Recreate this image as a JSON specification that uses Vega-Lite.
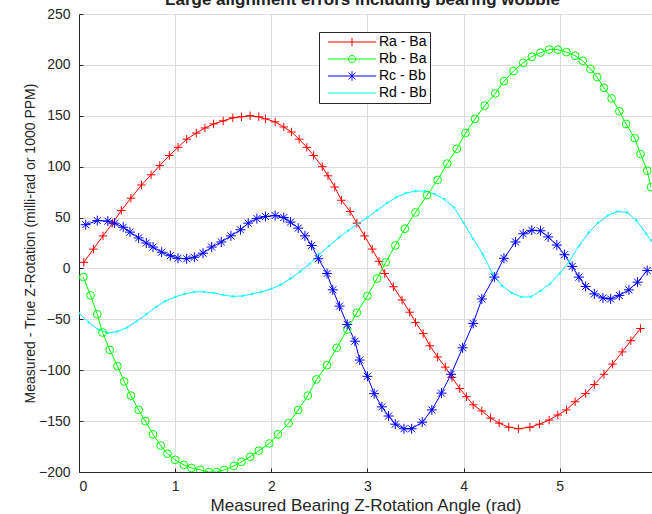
{
  "$schema": "https://vega.github.io/schema/vega-lite/v6.json",
  "width": 573,
  "height": 458,
  "autosize": {"type": "none"},
  "padding": {"left": 79, "top": 14, "right": 0, "bottom": 42},
  "background": "white",
  "title": {"text": "Large alignment errors including bearing wobble", "font": "Liberation Sans", "fontSize": 17, "fontWeight": "bold", "color": "#222222", "baseline": "alphabetic", "offset": -15, "anchor": "middle", "dx": -3},
  "data": {"values": [
    {"s": "Ra - Ba", "x": 0.05, "y": 6}, {"s": "Ra - Ba", "x": 0.15, "y": 19}, {"s": "Ra - Ba", "x": 0.25, "y": 32}, {"s": "Ra - Ba", "x": 0.35, "y": 44.5}, {"s": "Ra - Ba", "x": 0.44, "y": 57}, {"s": "Ra - Ba", "x": 0.54, "y": 69}, {"s": "Ra - Ba", "x": 0.65, "y": 82}, {"s": "Ra - Ba", "x": 0.75, "y": 92}, {"s": "Ra - Ba", "x": 0.84, "y": 101}, {"s": "Ra - Ba", "x": 0.94, "y": 111}, {"s": "Ra - Ba", "x": 1.03, "y": 119}, {"s": "Ra - Ba", "x": 1.12, "y": 127}, {"s": "Ra - Ba", "x": 1.22, "y": 133}, {"s": "Ra - Ba", "x": 1.31, "y": 138}, {"s": "Ra - Ba", "x": 1.40, "y": 142}, {"s": "Ra - Ba", "x": 1.50, "y": 145}, {"s": "Ra - Ba", "x": 1.60, "y": 148}, {"s": "Ra - Ba", "x": 1.69, "y": 149}, {"s": "Ra - Ba", "x": 1.78, "y": 150}, {"s": "Ra - Ba", "x": 1.87, "y": 149}, {"s": "Ra - Ba", "x": 1.94, "y": 147}, {"s": "Ra - Ba", "x": 2.04, "y": 144}, {"s": "Ra - Ba", "x": 2.13, "y": 139}, {"s": "Ra - Ba", "x": 2.21, "y": 134}, {"s": "Ra - Ba", "x": 2.29, "y": 127}, {"s": "Ra - Ba", "x": 2.37, "y": 119}, {"s": "Ra - Ba", "x": 2.44, "y": 111}, {"s": "Ra - Ba", "x": 2.53, "y": 100}, {"s": "Ra - Ba", "x": 2.59, "y": 91}, {"s": "Ra - Ba", "x": 2.66, "y": 80}, {"s": "Ra - Ba", "x": 2.73, "y": 67}, {"s": "Ra - Ba", "x": 2.82, "y": 56}, {"s": "Ra - Ba", "x": 2.89, "y": 44.5}, {"s": "Ra - Ba", "x": 2.97, "y": 32}, {"s": "Ra - Ba", "x": 3.05, "y": 19}, {"s": "Ra - Ba", "x": 3.12, "y": 7}, {"s": "Ra - Ba", "x": 3.18, "y": -5}, {"s": "Ra - Ba", "x": 3.27, "y": -18}, {"s": "Ra - Ba", "x": 3.36, "y": -31}, {"s": "Ra - Ba", "x": 3.44, "y": -43}, {"s": "Ra - Ba", "x": 3.50, "y": -53}, {"s": "Ra - Ba", "x": 3.58, "y": -64}, {"s": "Ra - Ba", "x": 3.65, "y": -76}, {"s": "Ra - Ba", "x": 3.73, "y": -87}, {"s": "Ra - Ba", "x": 3.81, "y": -97}, {"s": "Ra - Ba", "x": 3.88, "y": -107}, {"s": "Ra - Ba", "x": 3.96, "y": -118}, {"s": "Ra - Ba", "x": 4.03, "y": -126}, {"s": "Ra - Ba", "x": 4.10, "y": -134}, {"s": "Ra - Ba", "x": 4.19, "y": -140}, {"s": "Ra - Ba", "x": 4.28, "y": -147}, {"s": "Ra - Ba", "x": 4.37, "y": -152}, {"s": "Ra - Ba", "x": 4.47, "y": -156}, {"s": "Ra - Ba", "x": 4.57, "y": -157.5}, {"s": "Ra - Ba", "x": 4.69, "y": -156}, {"s": "Ra - Ba", "x": 4.79, "y": -153}, {"s": "Ra - Ba", "x": 4.89, "y": -149}, {"s": "Ra - Ba", "x": 4.98, "y": -144}, {"s": "Ra - Ba", "x": 5.07, "y": -139}, {"s": "Ra - Ba", "x": 5.16, "y": -131}, {"s": "Ra - Ba", "x": 5.27, "y": -123}, {"s": "Ra - Ba", "x": 5.36, "y": -114}, {"s": "Ra - Ba", "x": 5.46, "y": -104}, {"s": "Ra - Ba", "x": 5.55, "y": -94}, {"s": "Ra - Ba", "x": 5.65, "y": -82}, {"s": "Ra - Ba", "x": 5.74, "y": -71}, {"s": "Ra - Ba", "x": 5.84, "y": -59},
    {"s": "Rb - Ba", "x": 0.045, "y": -8.5}, {"s": "Rb - Ba", "x": 0.12, "y": -26.5}, {"s": "Rb - Ba", "x": 0.19, "y": -45}, {"s": "Rb - Ba", "x": 0.245, "y": -63}, {"s": "Rb - Ba", "x": 0.32, "y": -80}, {"s": "Rb - Ba", "x": 0.40, "y": -96}, {"s": "Rb - Ba", "x": 0.47, "y": -111}, {"s": "Rb - Ba", "x": 0.54, "y": -125}, {"s": "Rb - Ba", "x": 0.62, "y": -139}, {"s": "Rb - Ba", "x": 0.69, "y": -150}, {"s": "Rb - Ba", "x": 0.77, "y": -163}, {"s": "Rb - Ba", "x": 0.85, "y": -174}, {"s": "Rb - Ba", "x": 0.92, "y": -182}, {"s": "Rb - Ba", "x": 1.0, "y": -188}, {"s": "Rb - Ba", "x": 1.09, "y": -193}, {"s": "Rb - Ba", "x": 1.17, "y": -196}, {"s": "Rb - Ba", "x": 1.26, "y": -198}, {"s": "Rb - Ba", "x": 1.35, "y": -200}, {"s": "Rb - Ba", "x": 1.43, "y": -200}, {"s": "Rb - Ba", "x": 1.51, "y": -198}, {"s": "Rb - Ba", "x": 1.61, "y": -194}, {"s": "Rb - Ba", "x": 1.69, "y": -190}, {"s": "Rb - Ba", "x": 1.78, "y": -185}, {"s": "Rb - Ba", "x": 1.87, "y": -179}, {"s": "Rb - Ba", "x": 1.98, "y": -172}, {"s": "Rb - Ba", "x": 2.07, "y": -163}, {"s": "Rb - Ba", "x": 2.18, "y": -152}, {"s": "Rb - Ba", "x": 2.28, "y": -139}, {"s": "Rb - Ba", "x": 2.38, "y": -125}, {"s": "Rb - Ba", "x": 2.47, "y": -109}, {"s": "Rb - Ba", "x": 2.58, "y": -95}, {"s": "Rb - Ba", "x": 2.68, "y": -78}, {"s": "Rb - Ba", "x": 2.79, "y": -60}, {"s": "Rb - Ba", "x": 2.89, "y": -43.5}, {"s": "Rb - Ba", "x": 3.00, "y": -27}, {"s": "Rb - Ba", "x": 3.10, "y": -10}, {"s": "Rb - Ba", "x": 3.19, "y": 6}, {"s": "Rb - Ba", "x": 3.29, "y": 22.6}, {"s": "Rb - Ba", "x": 3.39, "y": 39}, {"s": "Rb - Ba", "x": 3.50, "y": 55}, {"s": "Rb - Ba", "x": 3.62, "y": 72}, {"s": "Rb - Ba", "x": 3.73, "y": 87}, {"s": "Rb - Ba", "x": 3.83, "y": 103}, {"s": "Rb - Ba", "x": 3.93, "y": 117.5}, {"s": "Rb - Ba", "x": 4.02, "y": 133}, {"s": "Rb - Ba", "x": 4.12, "y": 147}, {"s": "Rb - Ba", "x": 4.22, "y": 160}, {"s": "Rb - Ba", "x": 4.33, "y": 172}, {"s": "Rb - Ba", "x": 4.42, "y": 184}, {"s": "Rb - Ba", "x": 4.52, "y": 194}, {"s": "Rb - Ba", "x": 4.62, "y": 202}, {"s": "Rb - Ba", "x": 4.71, "y": 208}, {"s": "Rb - Ba", "x": 4.80, "y": 212}, {"s": "Rb - Ba", "x": 4.89, "y": 215}, {"s": "Rb - Ba", "x": 4.98, "y": 215}, {"s": "Rb - Ba", "x": 5.07, "y": 212.5}, {"s": "Rb - Ba", "x": 5.16, "y": 209}, {"s": "Rb - Ba", "x": 5.24, "y": 204}, {"s": "Rb - Ba", "x": 5.32, "y": 196}, {"s": "Rb - Ba", "x": 5.39, "y": 188}, {"s": "Rb - Ba", "x": 5.46, "y": 177.5}, {"s": "Rb - Ba", "x": 5.54, "y": 167}, {"s": "Rb - Ba", "x": 5.62, "y": 154.5}, {"s": "Rb - Ba", "x": 5.69, "y": 142}, {"s": "Rb - Ba", "x": 5.78, "y": 128}, {"s": "Rb - Ba", "x": 5.84, "y": 112.5}, {"s": "Rb - Ba", "x": 5.91, "y": 96}, {"s": "Rb - Ba", "x": 5.95, "y": 80},
    {"s": "Rc - Bb", "x": 0.07, "y": 43}, {"s": "Rc - Bb", "x": 0.19, "y": 47}, {"s": "Rc - Bb", "x": 0.30, "y": 46.5}, {"s": "Rc - Bb", "x": 0.37, "y": 44.5}, {"s": "Rc - Bb", "x": 0.46, "y": 40.5}, {"s": "Rc - Bb", "x": 0.53, "y": 35.7}, {"s": "Rc - Bb", "x": 0.62, "y": 30}, {"s": "Rc - Bb", "x": 0.70, "y": 25}, {"s": "Rc - Bb", "x": 0.77, "y": 21}, {"s": "Rc - Bb", "x": 0.86, "y": 16}, {"s": "Rc - Bb", "x": 0.95, "y": 12.5}, {"s": "Rc - Bb", "x": 1.03, "y": 10}, {"s": "Rc - Bb", "x": 1.12, "y": 9.5}, {"s": "Rc - Bb", "x": 1.20, "y": 11}, {"s": "Rc - Bb", "x": 1.29, "y": 15}, {"s": "Rc - Bb", "x": 1.38, "y": 21}, {"s": "Rc - Bb", "x": 1.48, "y": 26}, {"s": "Rc - Bb", "x": 1.58, "y": 32}, {"s": "Rc - Bb", "x": 1.68, "y": 38}, {"s": "Rc - Bb", "x": 1.76, "y": 44.5}, {"s": "Rc - Bb", "x": 1.85, "y": 49}, {"s": "Rc - Bb", "x": 1.94, "y": 51}, {"s": "Rc - Bb", "x": 2.04, "y": 52}, {"s": "Rc - Bb", "x": 2.13, "y": 50}, {"s": "Rc - Bb", "x": 2.20, "y": 45.5}, {"s": "Rc - Bb", "x": 2.28, "y": 39.6}, {"s": "Rc - Bb", "x": 2.35, "y": 32}, {"s": "Rc - Bb", "x": 2.42, "y": 22.6}, {"s": "Rc - Bb", "x": 2.49, "y": 9.5}, {"s": "Rc - Bb", "x": 2.58, "y": -5}, {"s": "Rc - Bb", "x": 2.64, "y": -21}, {"s": "Rc - Bb", "x": 2.71, "y": -37}, {"s": "Rc - Bb", "x": 2.79, "y": -55}, {"s": "Rc - Bb", "x": 2.87, "y": -71.5}, {"s": "Rc - Bb", "x": 2.92, "y": -90}, {"s": "Rc - Bb", "x": 3.00, "y": -106}, {"s": "Rc - Bb", "x": 3.07, "y": -123}, {"s": "Rc - Bb", "x": 3.15, "y": -136}, {"s": "Rc - Bb", "x": 3.22, "y": -145}, {"s": "Rc - Bb", "x": 3.29, "y": -153}, {"s": "Rc - Bb", "x": 3.38, "y": -157.5}, {"s": "Rc - Bb", "x": 3.46, "y": -157.5}, {"s": "Rc - Bb", "x": 3.57, "y": -151}, {"s": "Rc - Bb", "x": 3.67, "y": -139}, {"s": "Rc - Bb", "x": 3.77, "y": -122.5}, {"s": "Rc - Bb", "x": 3.87, "y": -104}, {"s": "Rc - Bb", "x": 3.99, "y": -78}, {"s": "Rc - Bb", "x": 4.10, "y": -54}, {"s": "Rc - Bb", "x": 4.19, "y": -30}, {"s": "Rc - Bb", "x": 4.32, "y": -8.5}, {"s": "Rc - Bb", "x": 4.42, "y": 10}, {"s": "Rc - Bb", "x": 4.54, "y": 26}, {"s": "Rc - Bb", "x": 4.62, "y": 34}, {"s": "Rc - Bb", "x": 4.71, "y": 37.5}, {"s": "Rc - Bb", "x": 4.80, "y": 37}, {"s": "Rc - Bb", "x": 4.88, "y": 31}, {"s": "Rc - Bb", "x": 4.97, "y": 23}, {"s": "Rc - Bb", "x": 5.05, "y": 13.5}, {"s": "Rc - Bb", "x": 5.13, "y": 2}, {"s": "Rc - Bb", "x": 5.20, "y": -8.5}, {"s": "Rc - Bb", "x": 5.27, "y": -17.7}, {"s": "Rc - Bb", "x": 5.36, "y": -25}, {"s": "Rc - Bb", "x": 5.45, "y": -29}, {"s": "Rc - Bb", "x": 5.53, "y": -30}, {"s": "Rc - Bb", "x": 5.62, "y": -26.5}, {"s": "Rc - Bb", "x": 5.72, "y": -21}, {"s": "Rc - Bb", "x": 5.81, "y": -13.5}, {"s": "Rc - Bb", "x": 5.91, "y": -2},
    {"s": "Rd - Bb", "x": 0.0, "y": -44}, {"s": "Rd - Bb", "x": 0.1, "y": -53}, {"s": "Rd - Bb", "x": 0.2, "y": -60}, {"s": "Rd - Bb", "x": 0.3, "y": -63.5}, {"s": "Rd - Bb", "x": 0.4, "y": -62}, {"s": "Rd - Bb", "x": 0.5, "y": -58}, {"s": "Rd - Bb", "x": 0.6, "y": -52}, {"s": "Rd - Bb", "x": 0.7, "y": -45}, {"s": "Rd - Bb", "x": 0.8, "y": -38}, {"s": "Rd - Bb", "x": 0.9, "y": -32}, {"s": "Rd - Bb", "x": 1.0, "y": -28}, {"s": "Rd - Bb", "x": 1.1, "y": -25}, {"s": "Rd - Bb", "x": 1.2, "y": -23}, {"s": "Rd - Bb", "x": 1.3, "y": -23}, {"s": "Rd - Bb", "x": 1.4, "y": -24}, {"s": "Rd - Bb", "x": 1.5, "y": -26}, {"s": "Rd - Bb", "x": 1.6, "y": -27.5}, {"s": "Rd - Bb", "x": 1.7, "y": -27}, {"s": "Rd - Bb", "x": 1.8, "y": -25}, {"s": "Rd - Bb", "x": 1.9, "y": -23}, {"s": "Rd - Bb", "x": 2.0, "y": -20}, {"s": "Rd - Bb", "x": 2.1, "y": -16}, {"s": "Rd - Bb", "x": 2.2, "y": -10}, {"s": "Rd - Bb", "x": 2.3, "y": -3}, {"s": "Rd - Bb", "x": 2.4, "y": 4.6}, {"s": "Rd - Bb", "x": 2.5, "y": 14}, {"s": "Rd - Bb", "x": 2.6, "y": 22}, {"s": "Rd - Bb", "x": 2.7, "y": 30}, {"s": "Rd - Bb", "x": 2.8, "y": 37}, {"s": "Rd - Bb", "x": 2.9, "y": 44}, {"s": "Rd - Bb", "x": 3.0, "y": 50}, {"s": "Rd - Bb", "x": 3.1, "y": 57}, {"s": "Rd - Bb", "x": 3.2, "y": 64}, {"s": "Rd - Bb", "x": 3.3, "y": 70}, {"s": "Rd - Bb", "x": 3.4, "y": 74}, {"s": "Rd - Bb", "x": 3.5, "y": 76}, {"s": "Rd - Bb", "x": 3.6, "y": 76}, {"s": "Rd - Bb", "x": 3.7, "y": 73}, {"s": "Rd - Bb", "x": 3.8, "y": 68}, {"s": "Rd - Bb", "x": 3.9, "y": 60}, {"s": "Rd - Bb", "x": 4.0, "y": 45}, {"s": "Rd - Bb", "x": 4.1, "y": 29}, {"s": "Rd - Bb", "x": 4.2, "y": 14}, {"s": "Rd - Bb", "x": 4.3, "y": -5}, {"s": "Rd - Bb", "x": 4.4, "y": -17}, {"s": "Rd - Bb", "x": 4.5, "y": -24}, {"s": "Rd - Bb", "x": 4.6, "y": -28}, {"s": "Rd - Bb", "x": 4.7, "y": -28}, {"s": "Rd - Bb", "x": 4.8, "y": -22}, {"s": "Rd - Bb", "x": 4.9, "y": -15}, {"s": "Rd - Bb", "x": 5.0, "y": -5}, {"s": "Rd - Bb", "x": 5.1, "y": 7}, {"s": "Rd - Bb", "x": 5.2, "y": 22}, {"s": "Rd - Bb", "x": 5.3, "y": 35}, {"s": "Rd - Bb", "x": 5.4, "y": 45}, {"s": "Rd - Bb", "x": 5.5, "y": 52}, {"s": "Rd - Bb", "x": 5.6, "y": 56}, {"s": "Rd - Bb", "x": 5.7, "y": 55}, {"s": "Rd - Bb", "x": 5.8, "y": 47}, {"s": "Rd - Bb", "x": 5.9, "y": 34}, {"s": "Rd - Bb", "x": 5.95, "y": 27.5}
  ]},
  "encoding": {
    "x": {"field": "x", "type": "quantitative", "scale": {"domain": [0, 5.96], "nice": false, "zero": false},
      "axis": {"values": [0, 1, 2, 3, 4, 5, 6], "format": "d", "title": "Measured Bearing Z-Rotation Angle (rad)", "titleFontSize": 17, "labelPadding": 11, "titlePadding": 4, "grid": true, "tickSize": -4}},
    "y": {"field": "y", "type": "quantitative", "scale": {"domain": [-200, 250], "nice": false, "zero": false},
      "axis": {"values": [-200, -150, -100, -50, 0, 50, 100, 150, 200, 250], "format": "d", "title": "Measured - True Z-Rotation (milli-rad or 1000 PPM)", "titleFontSize": 14, "labelPadding": 13, "titlePadding": 1, "grid": true, "tickSize": -4}},
    "color": {"field": "s", "type": "nominal", "scale": {"domain": ["Ra - Ba", "Rb - Ba", "Rc - Bb", "Rd - Bb"], "range": ["#ff0000", "#00ff00", "#0000ff", "#00ffff"]},
      "legend": {"orient": "none", "legendX": 240, "legendY": 18, "title": null, "direction": "vertical", "padding": 3, "fillColor": "white", "strokeColor": "#262626", "symbolSize": 144, "symbolOffset": 20, "symbolStrokeWidth": 1, "labelFont": "Liberation Sans", "labelFontSize": 14, "labelColor": "#000000", "labelOffset": 23, "rowPadding": 3,
        "encode": {"symbols": {"update": {"fill": {"value": "transparent"}, "strokeWidth": {"value": 1}, "x": {"value": 30}, "shape": {"signal": "datum.value == 'Ra - Ba' ? 'M-4,0H4M0,-0.7V0.7' : datum.value == 'Rb - Ba' ? 'M-4,0H4M-0.6,0A0.6,0.6,0,1,0,0.6,0A0.6,0.6,0,1,0,-0.6,0' : datum.value == 'Rc - Bb' ? 'M-4,0H4M0,-0.8V0.8M-0.57,-0.57L0.57,0.57M-0.57,0.57L0.57,-0.57' : 'M-4,0H4'"}}}}}}
  },
  "layer": [
    {"mark": {"type": "line", "strokeWidth": 1, "clip": true}},
    {"transform": [{"filter": "datum.s == 'Ra - Ba'"}], "mark": {"type": "point", "shape": "M-1,0H1M0,-1V1", "size": 72, "filled": false, "strokeWidth": 1, "opacity": 1, "clip": true}},
    {"transform": [{"filter": "datum.s == 'Rb - Ba'"}], "mark": {"type": "point", "shape": "circle", "size": 60, "filled": false, "strokeWidth": 1, "opacity": 1, "clip": true}},
    {"transform": [{"filter": "datum.s == 'Rc - Bb'"}], "mark": {"type": "point", "shape": "M-1,0H1M0,-1V1M-0.7,-0.7L0.7,0.7M-0.7,0.7L0.7,-0.7", "size": 100, "filled": false, "strokeWidth": 1, "opacity": 1, "clip": true}},
    {"transform": [{"filter": "datum.s == 'Rd - Bb'"}], "mark": {"type": "point", "shape": "circle", "size": 3, "filled": false, "strokeWidth": 1, "opacity": 1, "clip": true}}
  ],
  "config": {
    "view": {"stroke": null},
    "axis": {"domainColor": "#262626", "domainWidth": 1, "tickColor": "#262626", "labelColor": "#262626", "titleColor": "#262626", "labelFont": "Liberation Sans", "titleFont": "Liberation Sans", "labelFontSize": 14, "titleFontWeight": "normal", "gridColor": "#dcdcdc", "gridWidth": 1}
  }
}
